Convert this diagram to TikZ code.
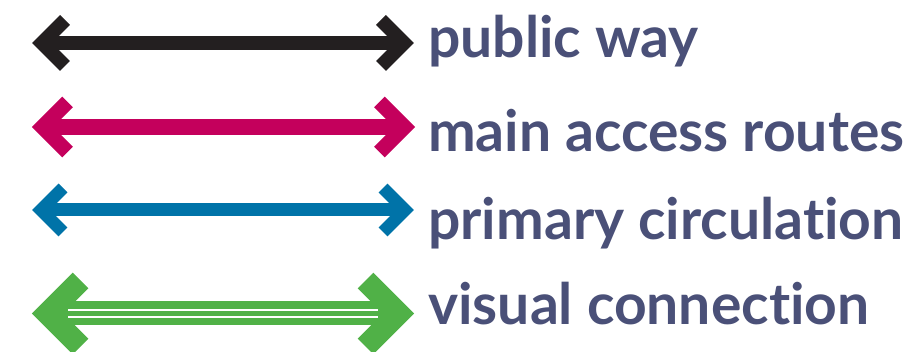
\documentclass[tikz,border=0pt]{standalone}
\usepackage{fontspec}
\setmainfont{Lato}[Ligatures={NoCommon}]
\definecolor{wayblack}{HTML}{231F20}
\definecolor{accessred}{HTML}{C4005C}
\definecolor{circblue}{HTML}{0073A8}
\definecolor{visgreen}{HTML}{50B147}
\definecolor{labelink}{HTML}{4A5078}
\tikzset{
  chevron/.style={line width=#1, line join=miter, line cap=butt, miter limit=10},
  shaft/.style={line width=#1, line cap=butt},
  legendlabel/.style={anchor=base west, inner sep=0pt, text=labelink,
    font=\fontsize{57}{57}\selectfont\bfseries}
}
\begin{document}
\begin{tikzpicture}[x=1pt, y=-1pt]
  \useasboundingbox (0,0) rectangle (921,352);

  % public way
  \coordinate (pwL) at (42,43);
  \coordinate (pwR) at (404,43);
  \draw[wayblack, shaft=14] (pwL) -- (pwR);
  \draw[wayblack, chevron=14] (pwL) ++(23,-23) -- (pwL) -- ++(23,23);
  \draw[wayblack, chevron=14] (pwR) ++(-23,-23) -- (pwR) -- ++(-23,23);
  \node[legendlabel] (pwT) at (428,58) {public way};

  % main access routes
  \coordinate (maL) at (42.6,127);
  \coordinate (maR) at (404.4,127);
  \draw[accessred, shaft=16] (maL) -- (maR);
  \draw[accessred, chevron=15] (maL) ++(25,-25) -- (maL) -- ++(25,25);
  \draw[accessred, chevron=15] (maR) ++(-25,-25) -- (maR) -- ++(-25,25);
  \node[legendlabel] (maT) at (428,152) {main access routes};

  % primary circulation
  \coordinate (pcL) at (41,210);
  \coordinate (pcR) at (405,210);
  \draw[circblue, shaft=13] (pcL) -- (pcR);
  \draw[circblue, chevron=12.5] (pcL) ++(22,-22) -- (pcL) -- ++(22,22);
  \draw[circblue, chevron=12.5] (pcR) ++(-22,-22) -- (pcR) -- ++(-22,22);
  \node[legendlabel] (pcT) at (428,240) {primary circulation};

  % visual connection: wide band with two fine white lines
  \coordinate (vcL) at (47.5,313.5);
  \coordinate (vcR) at (398.5,313.5);
  \draw[visgreen, shaft=24] (vcL) -- (vcR);
  \draw[visgreen, chevron=22] (vcL) ++(33,-33) -- (vcL) -- ++(33,33);
  \draw[visgreen, chevron=22] (vcR) ++(-33,-33) -- (vcR) -- ++(-33,33);
  \coordinate (vcA) at (68,313.5);
  \coordinate (vcB) at (378,313.5);
  \draw[white, shaft=2] ([yshift=-3.2pt]vcA) -- ([yshift=-3.2pt]vcB);
  \draw[white, shaft=2] ([yshift=3.2pt]vcA) -- ([yshift=3.2pt]vcB);
  \node[legendlabel] (vcT) at (428,325) {visual connection};
\end{tikzpicture}
\end{document}
